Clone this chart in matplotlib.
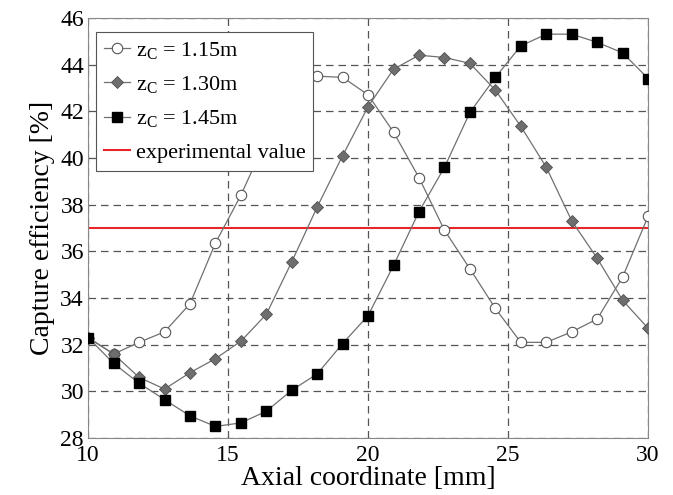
import numpy as np
import matplotlib.pyplot as plt

plt.rcParams['font.family'] = ['Liberation Serif', 'DejaVu Serif']
plt.rcParams['mathtext.fontset'] = 'custom'
plt.rcParams['mathtext.rm'] = 'Liberation Serif'

# Axial coordinate [mm]
x = np.linspace(10, 30, 23)

# Capture efficiency [%]
z115 = [32.3, 31.6, 32.1, 32.55, 33.75, 36.35, 38.4, 40.8, 42.8, 43.5, 43.45, 42.7,
        41.1, 39.15, 36.9, 35.25, 33.55, 32.1, 32.1, 32.55, 33.1, 34.9, 37.5]
z130 = [32.3, 31.6, 30.6, 30.1, 30.8, 31.4, 32.15, 33.3, 35.55, 37.9, 40.1, 42.2,
        43.8, 44.4, 44.3, 44.05, 42.9, 41.35, 39.6, 37.3, 35.7, 33.9, 32.7]
z145 = [32.3, 31.2, 30.35, 29.65, 28.95, 28.5, 28.65, 29.15, 30.05, 30.75, 32.05, 33.25,
        35.4, 37.7, 39.6, 41.95, 43.45, 44.8, 45.3, 45.3, 44.95, 44.5, 43.4]
experimental = 37.0

fig = plt.figure(figsize=(6.73, 4.95), dpi=100)
ax = fig.add_axes([0.131, 0.115, 0.832, 0.849])

lc = '#707070'
ax.plot(x, z115, color=lc, lw=0.9, marker='o', ms=7.5, mfc='white', mec='#555555', mew=0.8,
        label=r'$\mathregular{z_C}$ = 1.15m', zorder=3)
ax.plot(x, z130, color=lc, lw=0.9, marker='D', ms=6.5, mfc='#6e6e6e', mec='#505050', mew=0.6,
        label=r'$\mathregular{z_C}$ = 1.30m', zorder=3)
ax.plot(x, z145, color=lc, lw=0.9, marker='s', ms=7.5, mfc='black', mec='black',
        label=r'$\mathregular{z_C}$ = 1.45m', zorder=3)
ax.axhline(experimental, color='#e8262a', lw=1.5, label='experimental value', zorder=2)

ax.set_xlim(10, 30)
ax.set_ylim(28, 46)
ax.set_xticks([10, 15, 20, 25, 30])
ax.set_yticks(np.arange(28, 47, 2))
ax.grid(True, color='#555555', ls=(0, (6, 4)), lw=0.9)
ax.tick_params(axis='y', length=0, labelsize=17, pad=3)
ax.tick_params(axis='x', length=0, labelsize=17, pad=5)
for s in ax.spines.values():
    s.set_color('#888888')

ax.set_xlabel('Axial coordinate [mm]', fontsize=20, labelpad=0)
ax.set_ylabel('Capture efficiency [%]', fontsize=20, labelpad=4)

leg = ax.legend(loc='upper left', fontsize=16, handlelength=1.2, handletextpad=0.25,
                borderpad=0.35, labelspacing=0.6, fancybox=False, framealpha=1,
                bbox_to_anchor=(0.0, 0.985), borderaxespad=0.35)
leg.get_frame().set_edgecolor('#555555')
leg.get_frame().set_linewidth(0.8)

fig.savefig('out.png', dpi=100)
